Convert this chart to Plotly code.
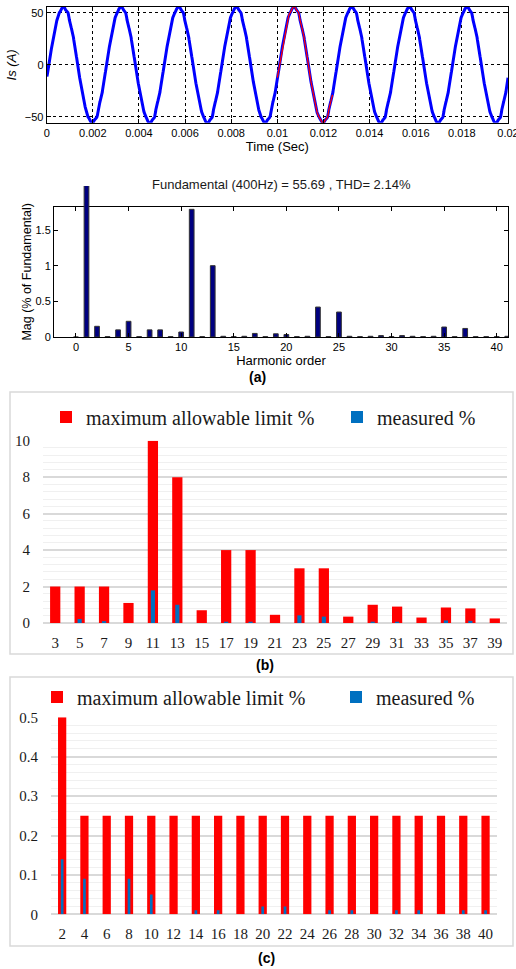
import numpy as np
import plotly.graph_objects as go

W, H = 516, 969

# ---------------- data ----------------
FUND_HZ = 400.0
FUND_AMP = 55.69
PHASE_LAG = -0.24          # rad, read from the peak positions
T_END = 0.02
WIN_START, WIN_END = 0.010, 0.0124

# FFT spectrum (% of fundamental), harmonic orders 0..41
spec_order = list(range(0, 42))
spec_mag = [0.0, 100.0, 0.15, 0.005, 0.10, 0.22, 0.005, 0.10, 0.10, 0.005,
            0.07, 1.79, 0.005, 1.00, 0.01, 0.005, 0.01, 0.05, 0.005, 0.045,
            0.035, 0.005, 0.01, 0.42, 0.005, 0.35, 0.01, 0.005, 0.01, 0.02,
            0.005, 0.02, 0.01, 0.005, 0.01, 0.14, 0.005, 0.12, 0.005, 0.005,
            0.005, 0.01]

# (b) odd harmonics
b_cat = ["3", "5", "7", "9", "11", "13", "15", "17", "19", "21",
         "23", "25", "27", "29", "31", "33", "35", "37", "39"]
b_limit = [2, 2, 2, 1.1, 10, 8, 0.7, 4, 4, 0.45,
           3, 3, 0.35, 1.0, 0.9, 0.3, 0.85, 0.8, 0.25]
b_meas = [0.0, 0.22, 0.10, 0.0, 1.79, 1.0, 0.0, 0.05, 0.05, 0.0,
          0.42, 0.35, 0.0, 0.02, 0.02, 0.0, 0.14, 0.12, 0.0]

# (c) even harmonics
c_cat = ["2", "4", "6", "8", "10", "12", "14", "16", "18", "20",
         "22", "24", "26", "28", "30", "32", "34", "36", "38", "40"]
c_limit = [0.5] + [0.25] * 19
c_meas = [0.14, 0.09, 0.0, 0.09, 0.05, 0.0, 0.01, 0.01, 0.0, 0.02,
          0.02, 0.0, 0.01, 0.01, 0.0, 0.01, 0.01, 0.0, 0.01, 0.01]

# time-axis tick labels
t_ticks = [0, 0.002, 0.004, 0.006, 0.008, 0.01, 0.012, 0.014, 0.016, 0.018, 0.02]
t_ticktext = ["0", "0.002", "0.004", "0.006", "0.008", "0.01", "0.012", "0.014", "0.016", "0.018", "0.02"]

# ------------- waveform synthesised from the spectrum -------------
t = np.linspace(0, T_END, 2001)
i_s = FUND_AMP * np.sin(2 * np.pi * FUND_HZ * t + PHASE_LAG)
for h, m in zip(spec_order, spec_mag):
    if h >= 2:
        i_s += FUND_AMP * m / 100.0 * np.sin(2 * np.pi * FUND_HZ * h * t + 0.7 * h)
i_s[0] = 0.0  # simulation starts from rest
win = (t >= WIN_START) & (t <= WIN_END)


def px_x(p):
    return p / W


def px_y(p):
    return 1 - p / H


SANS = "Liberation Sans, Arial, sans-serif"
SERIF = "Liberation Serif, Times New Roman, serif"
RED = "#ff0000"
BLUE = "#0070c0"

fig = go.Figure()

# panel 1: waveform
fig.add_trace(go.Scatter(x=t, y=i_s, mode="lines", line=dict(color="#0000ff", width=3),
                         xaxis="x", yaxis="y", showlegend=False))
fig.add_trace(go.Scatter(x=t[win], y=i_s[win], mode="lines", line=dict(color="#ff0000", width=1.3),
                         xaxis="x", yaxis="y", showlegend=False))

# panel 2: spectrum
fund_mask = [o == 1 for o in spec_order]
fig.add_trace(go.Bar(x=[o for o, f in zip(spec_order, fund_mask) if not f],
                     y=[m for m, f in zip(spec_mag, fund_mask) if not f],
                     width=0.45, marker=dict(color="#000080", line=dict(color="#333333", width=1)),
                     xaxis="x2", yaxis="y2", showlegend=False))
fig.add_trace(go.Bar(x=[o for o, f in zip(spec_order, fund_mask) if f],
                     y=[m for m, f in zip(spec_mag, fund_mask) if f],
                     width=0.45, marker=dict(color="#000080", line=dict(color="#333333", width=1)),
                     xaxis="x2", yaxis="y3", showlegend=False))

# panel b
fig.add_trace(go.Bar(x=b_cat, y=b_limit, name="maximum allowable limit %", width=0.42,
                     marker=dict(color=RED, line=dict(width=0)), xaxis="x3", yaxis="y4", legend="legend"))
fig.add_trace(go.Bar(x=b_cat, y=b_meas, name="measured %", width=0.17,
                     marker=dict(color=BLUE, line=dict(width=0)), xaxis="x3", yaxis="y4", legend="legend3"))

# panel c
fig.add_trace(go.Bar(x=c_cat, y=c_limit, name="maximum allowable limit %", width=0.37,
                     marker=dict(color=RED, line=dict(width=0)), xaxis="x4", yaxis="y5", legend="legend2"))
fig.add_trace(go.Bar(x=c_cat, y=c_meas, name="measured %", width=0.12,
                     marker=dict(color=BLUE, line=dict(width=0)), xaxis="x4", yaxis="y5", legend="legend4"))

# domains
d1x = [px_x(46.7), px_x(508)]
d1y = [px_y(122.7), px_y(7)]
d2x = [px_x(54), px_x(508)]
d2y = [px_y(337), px_y(206.7)]
d3y = [px_y(337), px_y(186)]
y2max = 1.827
y3max = y2max * (d3y[1] - d3y[0]) / (d2y[1] - d2y[0])
dbx = [px_x(43), px_x(507)]
dby = [px_y(623), px_y(440.7)]
dcx = [px_x(51), px_x(496.7)]
dcy = [px_y(914.3), px_y(717.3)]

mat_font = dict(family=SANS, size=11, color="#000000")
lab_font = dict(family=SANS, size=13, color="#000000")
xl_font = dict(family=SERIF, size=15, color="#1a1a1a")


def leg(xp, yp):
    return dict(orientation="h", x=px_x(xp), y=px_y(yp), xanchor="left", yanchor="middle",
                font=dict(family=SERIF, size=20, color="#1a1a1a"),
                bgcolor="rgba(0,0,0,0)", borderwidth=0, itemclick=False, itemdoubleclick=False)


fig.update_layout(
    width=W, height=H,
    margin=dict(l=0, r=0, t=0, b=0, autoexpand=False),
    paper_bgcolor="white", plot_bgcolor="rgba(0,0,0,0)",
    barmode="overlay",
    xaxis=dict(domain=d1x, anchor="y", range=[0, T_END * 1.000001],
               tickvals=t_ticks, ticktext=t_ticktext, ticklabeloverflow="allow",
               showgrid=True, gridcolor="#000000", griddash="dot", gridwidth=1,
               showline=True, linecolor="#000000", linewidth=1, mirror="ticks",
               ticks="inside", ticklen=4, tickcolor="#000000", tickfont=mat_font, zeroline=False,
               title=dict(text="Time (Sec)", font=lab_font, standoff=1)),
    yaxis=dict(domain=d1y, anchor="x", range=[-55.7, 55.7], tickvals=[-50, 0, 50],
               showgrid=True, gridcolor="#000000", griddash="dot", gridwidth=1,
               showline=True, linecolor="#000000", linewidth=1, mirror="ticks",
               ticks="inside", ticklen=4, tickcolor="#000000", tickfont=mat_font, zeroline=False,
               title=dict(text="<i>Is (A)</i>", font=lab_font, standoff=5)),
    xaxis2=dict(domain=d2x, anchor="y2", range=[-2.09, 41.07], tickvals=[0, 5, 10, 15, 20, 25, 30, 35, 40],
                showgrid=False, showline=True, linecolor="#000000", linewidth=1, mirror="ticks",
                ticks="inside", ticklen=4, tickcolor="#000000", tickfont=mat_font, zeroline=False,
                title=dict(text="Harmonic order", font=lab_font, standoff=1)),
    yaxis2=dict(domain=d2y, anchor="x2", range=[0, y2max], tickvals=[0, 0.5, 1, 1.5],
                showgrid=False, showline=True, linecolor="#000000", linewidth=1, mirror="ticks",
                ticks="inside", ticklen=4, tickcolor="#000000", tickfont=mat_font, zeroline=False,
                title=dict(text="Mag (% of Fundamental)", font=dict(family=SANS, size=12.5, color="#000"),
                           standoff=1)),
    yaxis3=dict(domain=d3y, anchor="x2", range=[0, y3max], visible=False, fixedrange=True),
    xaxis3=dict(domain=dbx, anchor="y4", type="category", range=[-0.5, len(b_cat) - 0.5],
                showgrid=False, showline=False, ticks="", tickfont=xl_font, ticklabelstandoff=9),
    yaxis4=dict(domain=dby, anchor="x3", range=[0, 10], dtick=2, tickfont=xl_font,
                showgrid=True, gridcolor="#d9d9d9", gridwidth=1.5, zeroline=True, zerolinecolor="#d9d9d9",
                zerolinewidth=1.5, showline=False, ticks="", ticklabelstandoff=12,
                minor=dict(dtick=0.4, showgrid=True, gridcolor="#f0f0f0", gridwidth=1)),
    xaxis4=dict(domain=dcx, anchor="y5", type="category", range=[-0.5, len(c_cat) - 0.5],
                showgrid=False, showline=False, ticks="", tickfont=xl_font, ticklabelstandoff=9),
    yaxis5=dict(domain=dcy, anchor="x4", range=[0, 0.5], dtick=0.1, tickfont=xl_font,
                showgrid=True, gridcolor="#d9d9d9", gridwidth=1.5, zeroline=True, zerolinecolor="#d9d9d9",
                zerolinewidth=1.5, showline=False, ticks="", ticklabelstandoff=12,
                minor=dict(dtick=0.02, showgrid=True, gridcolor="#f0f0f0", gridwidth=1)),
    legend=leg(46, 417),
    legend3=leg(337, 417),
    legend2=leg(37, 697),
    legend4=leg(336, 697),
    shapes=[
        dict(type="rect", xref="paper", yref="paper", x0=px_x(10), x1=px_x(513), y0=px_y(654), y1=px_y(392),
             line=dict(color="#d9d9d9", width=1.5), fillcolor="rgba(0,0,0,0)", layer="below"),
        dict(type="rect", xref="paper", yref="paper", x0=px_x(10), x1=px_x(513), y0=px_y(946), y1=px_y(677),
             line=dict(color="#d9d9d9", width=1.5), fillcolor="rgba(0,0,0,0)", layer="below"),
    ],
    annotations=[
        dict(text="Fundamental (400Hz) = 55.69 , THD= 2.14%", xref="paper", yref="paper",
             x=(d2x[0] + d2x[1]) / 2, y=px_y(184), showarrow=False, xanchor="center", yanchor="middle",
             font=dict(family=SANS, size=13, color="#1a1a1a")),
        dict(text="<b>(a)</b>", xref="paper", yref="paper", x=px_x(257), y=px_y(377), showarrow=False,
             xanchor="center", yanchor="middle", font=dict(family=SANS, size=14, color="#000")),
        dict(text="<b>(b)</b>", xref="paper", yref="paper", x=px_x(265), y=px_y(665), showarrow=False,
             xanchor="center", yanchor="middle", font=dict(family=SANS, size=14, color="#000")),
        dict(text="<b>(c)</b>", xref="paper", yref="paper", x=px_x(266), y=px_y(958), showarrow=False,
             xanchor="center", yanchor="middle", font=dict(family=SANS, size=14, color="#000")),
    ],
)

fig.write_html("out.html", config={"displayModeBar": False},
               post_script="document.body.style.margin='0px';document.body.style.overflow='hidden';")
